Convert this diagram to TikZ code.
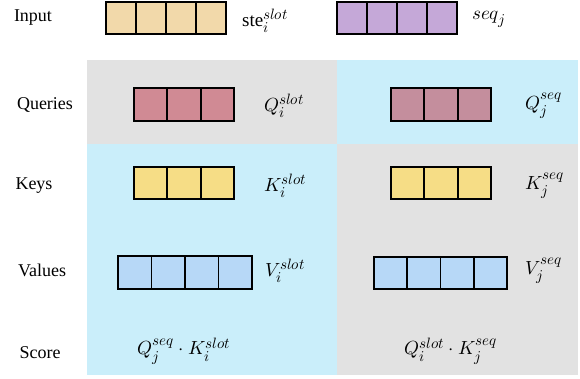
\documentclass[tikz,border=0pt]{standalone}
\usepackage{fontspec}
\usepackage{unicode-math}
\setmainfont{Liberation Serif}
\setmathfont{Latin Modern Math}
\DeclareMathSizes{19}{19}{15}{12}
\definecolor{bggray}{HTML}{E2E2E2}
\definecolor{bgblue}{HTML}{CAEEFA}
\definecolor{tanc}{HTML}{F2D9AA}
\definecolor{purc}{HTML}{C5A8D8}
\definecolor{qleft}{HTML}{D08A94}
\definecolor{qright}{HTML}{C48E9D}
\definecolor{keyc}{HTML}{F6DD86}
\definecolor{valc}{HTML}{B7D8F7}
\tikzset{
  cell/.style={draw=black, line width=1.7pt, inner sep=0pt, outer sep=0pt},
  rowlabel/.style={font=\fontsize{18}{20}\selectfont, inner sep=0pt},
  mlabel/.style={font=\fontsize{19}{21}\selectfont, inner sep=0pt, anchor=west},
  slabel/.style={font=\fontsize{19}{21}\selectfont, inner sep=0pt},
}
\newcommand{\cellrow}[7]{% name, n, x0, x1, ytop, ybot, fill
  \pgfmathsetmacro{\cw}{(#4-#3)/#2}
  \pgfmathsetmacro{\ch}{#6-#5}
  \foreach \k in {1,...,#2}{
    \node[cell, fill=#7, minimum width=\cw pt, minimum height=\ch pt]
      (#1\k) at ({#3+(\k-0.5)*\cw}, {(#5+#6)/2}) {};
  }
}
\begin{document}
\begin{tikzpicture}[x=1pt, y=-1pt]
\useasboundingbox (0,0) rectangle (580,378);
% backgrounds
\fill[bggray] (87,60) rectangle (337,144);
\fill[bgblue] (337,60) rectangle (578,144);
\fill[bgblue] (87,144) rectangle (337,375);
\fill[bggray] (337,144) rectangle (578,375);
% row labels
\node[rowlabel] (linput) at (33,18) {Input};
\node[rowlabel] (lq) at (45,105) {Queries};
\node[rowlabel] (lk) at (34,186) {Keys};
\node[rowlabel] (lv) at (42,270) {Values};
\node[rowlabel] (ls) at (40,353) {Score};
% input
\cellrow{ste}{4}{106}{226}{2}{34}{tanc}
\node[mlabel] (stel) at (242,21) {ste$_i^{slot}$};
\cellrow{seq}{4}{337}{457}{2}{34}{purc}
\node[mlabel] (seql) at (472,19) {$seq_j$};
% queries
\cellrow{ql}{3}{134}{234}{88}{121}{qleft}
\node[mlabel] (qll) at (264,106) {$Q_i^{slot}$};
\cellrow{qr}{3}{391}{491}{88}{121}{qright}
\node[mlabel] (qrl) at (525,106) {$Q_j^{seq}$};
% keys
\cellrow{kl}{3}{134}{234}{167}{199}{keyc}
\node[mlabel] (kll) at (264,186) {$K_i^{slot}$};
\cellrow{kr}{3}{391}{491}{167}{199}{keyc}
\node[mlabel] (krl) at (525,186) {$K_j^{seq}$};
% values
\cellrow{vl}{4}{118}{252}{256}{289}{valc}
\node[mlabel] (vll) at (265,271) {$V_i^{slot}$};
\cellrow{vr}{4}{374}{507}{257}{289}{valc}
\node[mlabel] (vrl) at (525,271) {$V_j^{seq}$};
% score
\node[slabel] (sl) at (184,351) {$Q_j^{seq}\cdot K_i^{slot}$};
\node[slabel] (sr) at (451,351) {$Q_i^{slot}\cdot K_j^{seq}$};
\end{tikzpicture}
\end{document}
